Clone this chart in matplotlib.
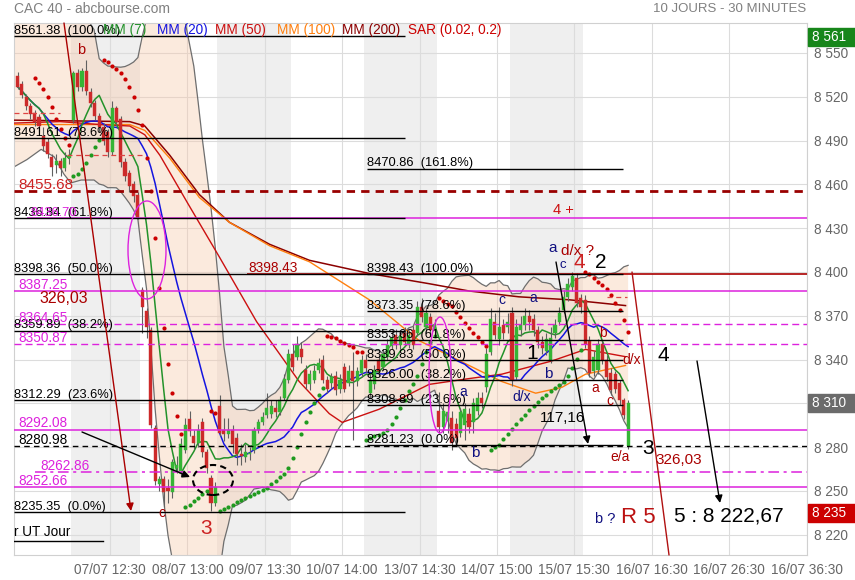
import numpy as np
import pandas as pd
import matplotlib
matplotlib.use("Agg")
import matplotlib.pyplot as plt
from matplotlib.patches import Ellipse, Rectangle

plt.rcParams['font.family'] = ['Liberation Sans', 'DejaVu Sans']

# ---------------- data (30-minute bars, CAC 40) ----------------
day_labels = ['06/07', '07/07', '08/07', '09/07', '10/07', '13/07', '14/07', '15/07', '16/07']
day_start_bar = [0, 13, 29, 47, 64, 81, 98, 115, 132]

opens = [
    8534, 8529, 8520, 8514, 8509, 8506, 8493, 8489, 8479, 8473, 8476, 8471, 8478,
    8504, 8536, 8527, 8538, 8523, 8516, 8507, 8499, 8496, 8482, 8512, 8505, 8475, 8468, 8460, 8453,
    8388, 8373, 8360, 8293, 8255, 8258, 8252, 8249, 8266, 8264, 8278, 8299, 8288, 8283, 8297, 8277, 8259, 8242,
    8308, 8292, 8289, 8292, 8286, 8275, 8273, 8275, 8278, 8292, 8297, 8302, 8303, 8307, 8304, 8314, 8326,
    8344, 8342, 8347, 8333, 8323, 8326, 8333, 8340, 8326, 8324, 8329, 8320, 8335, 8324, 8332, 8325, 8331,
    8340, 8317, 8323, 8340, 8335, 8342, 8349, 8357, 8350, 8358, 8350, 8360, 8358, 8376, 8362, 8369, 8360,
    8305, 8294, 8298, 8300, 8296, 8290, 8295, 8303, 8297, 8305, 8314, 8321, 8345, 8366, 8354, 8364, 8362,
    8372, 8328, 8360, 8364, 8370, 8368, 8360, 8352, 8346, 8340, 8358, 8366, 8374, 8383, 8390, 8396, 8382,
    8381, 8353, 8332, 8333, 8351, 8340, 8331, 8330, 8324, 8312, 8281,
]
highs = [
    8537, 8531, 8522, 8516, 8511, 8508, 8499, 8492, 8481, 8481, 8478, 8482, 8484,
    8538, 8539, 8540, 8545, 8526, 8518, 8509, 8502, 8498, 8517, 8514, 8507, 8478, 8470, 8462, 8455,
    8390, 8375, 8362, 8295, 8260, 8260, 8258, 8272, 8274, 8286, 8300, 8305, 8292, 8296, 8300, 8279, 8261, 8256,
    8316, 8300, 8300, 8295, 8290, 8282, 8282, 8280, 8294, 8299, 8304, 8317, 8312, 8312, 8315, 8330, 8347,
    8351, 8356, 8352, 8336, 8333, 8336, 8341, 8343, 8329, 8331, 8332, 8330, 8338, 8336, 8345, 8335, 8343,
    8344, 8330, 8336, 8343, 8347, 8354, 8360, 8361, 8360, 8362, 8360, 8363, 8380, 8382, 8376, 8372, 8368,
    8318, 8310, 8310, 8305, 8300, 8307, 8310, 8307, 8314, 8318, 8318, 8348, 8375, 8372, 8376, 8368, 8372,
    8376, 8368, 8370, 8375, 8374, 8371, 8363, 8356, 8358, 8362, 8368, 8376, 8388, 8396, 8400, 8399, 8385,
    8384, 8356, 8346, 8354, 8353, 8343, 8334, 8332, 8326, 8314, 8312,
]
lows = [
    8525, 8519, 8511, 8505, 8500, 8496, 8483, 8478, 8466, 8468, 8466, 8469, 8474,
    8502, 8524, 8524, 8521, 8513, 8504, 8496, 8487, 8479, 8480, 8500, 8472, 8462, 8455, 8448, 8436,
    8358, 8355, 8293, 8254, 8250, 8239, 8242, 8245, 8262, 8260, 8276, 8288, 8279, 8280, 8273, 8262, 8236, 8240,
    8288, 8284, 8286, 8276, 8268, 8268, 8270, 8271, 8276, 8290, 8295, 8300, 8300, 8301, 8302, 8312, 8324,
    8332, 8340, 8338, 8320, 8319, 8324, 8331, 8324, 8317, 8320, 8316, 8317, 8318, 8322, 8285, 8322, 8328,
    8331, 8314, 8320, 8329, 8333, 8340, 8347, 8347, 8347, 8349, 8348, 8347, 8356, 8366, 8358, 8356, 8356,
    8290, 8290, 8290, 8278, 8282, 8287, 8285, 8290, 8290, 8302, 8307, 8318, 8343, 8354, 8350, 8354, 8358,
    8322, 8326, 8356, 8360, 8360, 8356, 8348, 8344, 8343, 8338, 8355, 8364, 8372, 8380, 8387, 8376, 8372,
    8348, 8328, 8329, 8330, 8337, 8325, 8316, 8317, 8309, 8299, 8279,
]
closes = [
    8527, 8521, 8514, 8508, 8503, 8500, 8486, 8481, 8472, 8476, 8471, 8478, 8480,
    8536, 8527, 8538, 8524, 8516, 8507, 8499, 8490, 8482, 8512, 8503, 8475, 8466, 8459, 8452, 8438,
    8376, 8362, 8295, 8257, 8258, 8249, 8250, 8270, 8268, 8282, 8295, 8291, 8283, 8292, 8277, 8266, 8242, 8253,
    8290, 8289, 8292, 8282, 8275, 8274, 8277, 8276, 8292, 8297, 8301, 8307, 8308, 8304, 8312, 8327, 8344,
    8335, 8351, 8342, 8323, 8330, 8332, 8338, 8326, 8320, 8328, 8319, 8326, 8320, 8332, 8325, 8332, 8340,
    8334, 8326, 8333, 8332, 8344, 8350, 8355, 8350, 8356, 8352, 8357, 8350, 8376, 8369, 8372, 8360, 8364,
    8294, 8305, 8304, 8283, 8286, 8304, 8306, 8294, 8310, 8314, 8310, 8344, 8368, 8357, 8362, 8358, 8366,
    8326, 8362, 8364, 8370, 8366, 8360, 8352, 8348, 8354, 8355, 8364, 8372, 8383, 8392, 8397, 8379, 8376,
    8351, 8331, 8342, 8351, 8340, 8328, 8319, 8320, 8312, 8302, 8310,
]

# long moving averages (bar position, value)
mm50_bar = [-0.8, 9.9, 19.1, 26.1, 29.6, 33.1, 39.6, 47.0, 55.6, 65.5, 72.5, 75.5, 84.1, 95.7, 105.0, 112.6, 124.2, 132.1, 141.4]
mm50_val = [8502, 8503, 8501, 8500, 8494, 8480, 8447, 8410, 8366, 8325, 8303, 8297, 8306, 8323, 8327, 8330, 8339, 8347, 8342]
mm100_bar = [-0.8, 26.1, 29.6, 35.4, 42.3, 49.3, 58.6, 67.9, 81.8, 93.4, 105.0, 112.6, 120.5, 126.6, 132.1, 141.4]
mm100_val = [8501, 8501, 8497, 8478, 8451, 8434, 8418, 8407, 8381, 8353, 8336, 8325, 8317, 8321, 8330, 8336]
mm200_bar = [-0.8, 26.1, 29.6, 35.4, 42.3, 49.3, 58.6, 67.9, 81.8, 95.7, 105.0, 116.6, 128.2, 141.4]
mm200_val = [8504, 8503, 8500, 8480, 8453, 8434, 8419, 8408, 8399, 8392, 8387, 8383, 8381, 8377]

# Bollinger band at the very start (history before the window)
bb_early_bar = [-0.8, 2.2, 5.5, 8.5, 10.8, 12.4, 14.8, 17.8]
bb_early_up = [8575, 8574, 8573, 8578, 8572, 8575, 8580, 8566]
bb_early_lo = [8472, 8477, 8484, 8479, 8467, 8461, 8463, 8463]

fib_left_vals = [8561.38, 8491.61, 8436.84, 8398.36, 8359.89, 8312.29, 8235.35]
fib_left_pct = ['100.0%', '78.6%', '61.8%', '50.0%', '38.2%', '23.6%', '0.0%']
fib_right_vals = [8398.43, 8373.35, 8353.66, 8339.83, 8326.00, 8308.89, 8281.23]
fib_right_pct = ['100.0%', '78.6%', '61.8%', '50.0%', '38.2%', '23.6%', '0.0%']
fib_ext_val, fib_ext_pct = 8470.86, '161.8%'

mag_solid = [8436.70, 8387.25, 8292.08, 8252.66]
mag_dashed = [8364.65, 8350.87]
mag_dashdot = [8262.86]
black_dashed = 8280.98
red_dashed = 8455.68
red_solid = 8398.43

y_ticks = [8220, 8250, 8280, 8310, 8340, 8370, 8400, 8430, 8460, 8490, 8520, 8550]
x_tick_bars = [21.5, 39.5, 57.5, 75.5, 93.5, 111.5, 129.5, 147.5, 165.5, 183.5]
x_tick_labels = ['07/07 12:30', '08/07 13:00', '09/07 13:30', '10/07 14:00', '13/07 14:30',
                 '14/07 15:00', '15/07 15:30', '16/07 16:30', '16/07 26:30', '16/07 36:30']
box_vals = [8561, 8310, 8235]
box_cols = ['#17861a', '#6b6b6b', '#cc0000']

# ---------------- figure / axes ----------------
W, H = 855, 580
fig = plt.figure(figsize=(W / 100, H / 100), dpi=100)
AX_L, AX_R, AX_T, AX_B = 14, 807, 23, 555
ax = fig.add_axes([AX_L / W, 1 - AX_B / H, (AX_R - AX_L) / W, (AX_B - AX_T) / H])

X0_PX, BAR_PX = 17.5, 4.30
def bx(px):
    return (px - X0_PX) / BAR_PX
def pr(py):
    return 8550 - (py - 53) / 1.46

ax.set_xlim(bx(AX_L), 183.6)
ax.set_ylim(pr(AX_B), pr(AX_T))

n = len(closes)
idx = np.arange(n)
o = np.array(opens, float); h = np.array(highs, float)
l = np.array(lows, float); c = np.array(closes, float)

# day shading
for k in range(1, len(day_start_bar), 2):
    s = day_start_bar[k] - 0.5
    e = (day_start_bar[k + 1] - 0.5) if k + 1 < len(day_start_bar) else n - 0.5
    ax.axvspan(s, e, color='#efefef', zorder=0, lw=0)

# grid
for t in y_ticks:
    ax.axhline(t, color='#dcdcdc', lw=0.8, zorder=0.5)
for t in x_tick_bars:
    ax.axvline(t, color='#dcdcdc', lw=0.8, zorder=0.5)

# Bollinger bands (20, 2)
cs = pd.Series(c)
mid = cs.rolling(20, min_periods=2).mean()
sd = cs.rolling(20, min_periods=2).std(ddof=0)
up_b = (mid + 2 * sd).values
lo_b = (mid - 2 * sd).values
k0 = 19
bb_x = np.concatenate([bb_early_bar, idx[k0:]])
bb_u = np.concatenate([bb_early_up, up_b[k0:]])
bb_l = np.concatenate([bb_early_lo, lo_b[k0:]])
ax.fill_between(bb_x, bb_l, bb_u, color='#f7c8a8', alpha=0.38, lw=0, zorder=1)
ax.plot(bb_x, bb_u, color='#6e6e6e', lw=0.9, zorder=2)
ax.plot(bb_x, bb_l, color='#6e6e6e', lw=0.9, zorder=2)

# moving averages
mm7 = cs.rolling(7, min_periods=1).mean().values
mm20 = cs.rolling(20, min_periods=1).mean().values
ax.plot(mm200_bar, mm200_val, color='#8b0000', lw=1.1, zorder=3)
ax.plot(mm100_bar, mm100_val, color='#ff7f0e', lw=1.0, zorder=3)
ax.plot(mm50_bar, mm50_val, color='#cc1010', lw=1.0, zorder=3)
ax.plot(idx, mm20, color='#1515e0', lw=1.1, zorder=3)
ax.plot(idx, mm7, color='#23922a', lw=1.1, zorder=3)

# candles
green, red = '#35b535', '#cc2a2a'
cols = np.where(c >= o, green, red)
ax.vlines(idx, l, h, color='#606060', lw=0.8, zorder=4)
ax.bar(idx, np.maximum(np.abs(c - o), 0.6), bottom=np.minimum(o, c), width=0.72,
       color=cols, edgecolor=cols, lw=0.3, zorder=4.5)

# parabolic SAR (0.02, 0.2)
def parabolic_sar(hi, lo, step=0.02, amax=0.2):
    m = len(hi)
    sar = np.zeros(m); tr = np.zeros(m, int)
    up = False; af = step; ep = lo[0]; sar[0] = hi[0]; tr[0] = -1
    for i in range(1, m):
        s = sar[i - 1] + af * (ep - sar[i - 1])
        if up:
            s = min(s, lo[i - 1], lo[max(i - 2, 0)])
            if lo[i] < s:
                up = False; s = ep; ep = lo[i]; af = step
            elif hi[i] > ep:
                ep = hi[i]; af = min(af + step, amax)
        else:
            s = max(s, hi[i - 1], hi[max(i - 2, 0)])
            if hi[i] > s:
                up = True; s = ep; ep = hi[i]; af = step
            elif lo[i] < ep:
                ep = lo[i]; af = min(af + step, amax)
        sar[i] = s; tr[i] = 1 if up else -1
    return sar, tr

sar, tr = parabolic_sar(h, l)
st = 4
ax.scatter(idx[st:][tr[st:] > 0], sar[st:][tr[st:] > 0], s=9, color='#1f9a1f', zorder=5, lw=0)
ax.scatter(idx[st:][tr[st:] < 0], sar[st:][tr[st:] < 0], s=9, color='#cc0000', zorder=5, lw=0)

# ---------------- horizontal levels ----------------
def hl(v, px0, px1, **kw):
    ax.plot([bx(px0), bx(px1)], [v, v], zorder=6, solid_capstyle='butt', **kw)

def lab(px, v, s, color, size=9.3, dy=1.5):
    ax.annotate(s, (bx(px), v), xytext=(0, dy), textcoords='offset points',
                ha='left', va='baseline', color=color, fontsize=size, zorder=7)

MAG = '#dd22dd'
DR = '#aa0000'

for v in mag_solid:
    hl(v, 27 if v == 8436.70 else 14, 807, color=MAG, lw=1.1)
for v in mag_dashed:
    hl(v, 14, 807, color=MAG, lw=1.0, ls=(0, (5, 3)))
for v in mag_dashdot:
    hl(v, 35, 807, color=MAG, lw=1.1, ls=(0, (7, 3, 2, 3)))
hl(black_dashed, 14, 807, color='black', lw=1.0, ls=(0, (4, 3)))
hl(red_dashed, 14, 807, color='#990000', lw=2.0, ls=(0, (3, 2.2)))
hl(red_solid, 247, 807, color=DR, lw=1.2)

for v, p in zip(fib_left_vals, fib_left_pct):
    hl(v, 14, 405, color='black', lw=1.0)
    lab(14, v, f'{v:.2f}  ({p})', 'black')
for v, p in zip(fib_right_vals, fib_right_pct):
    hl(v, 367, 623, color='black', lw=1.0)
    lab(367, v, f'{v:.2f}  ({p})', 'black')
hl(fib_ext_val, 367, 623, color='black', lw=1.0)
lab(367, fib_ext_val, f'{fib_ext_val:.2f}  ({fib_ext_pct})', 'black')

for v in [8387.25, 8292.08, 8252.66, 8364.65, 8350.87]:
    lab(18, v, f'{v:.2f}', MAG, 9.8)
lab(40, 8262.86, '8262.86', MAG, 9.8)
lab(30, 8436.70, '8436.70', MAG, 9.3)
lab(18, black_dashed, f'{black_dashed:.2f}', 'black', 9.8)
lab(18, red_dashed, f'{red_dashed:.2f}', '#cc2222', 11)
lab(248, red_solid, f'{red_solid:.2f}', DR, 9.8)

# small hand-drawn red dashed segments
for (p0, p1, py) in [(14, 60, 113), (67, 145, 155), (607, 627, 297)]:
    ax.plot([bx(p0), bx(p1)], [pr(py), pr(py)], color='#dd4444', lw=0.9, ls=(0, (4, 3)), zorder=6)

# "r UT Jour"
ax.plot([bx(14), bx(103)], [pr(541), pr(541)], color='black', lw=1.0, zorder=6)
ax.text(bx(14), pr(532), 'r UT Jour', color='black', fontsize=9.8, va='center', ha='left', zorder=7)

# ---------------- annotations ----------------
def T(px, py, s, color, size):
    ax.text(bx(px), pr(py), s, color=color, fontsize=size, ha='center', va='center', zorder=8)

NAVY = '#101080'
T(81, 50, 'b', DR, 10.5)
T(64, 299, '326,03', DR, 11.5)
T(162, 513, 'c', DR, 10)
T(206, 528, '3', '#cc2222', 15)
T(463, 392, 'a', NAVY, 10)
T(475, 453, 'b', NAVY, 11)
T(502, 300, 'c', NAVY, 10)
T(533, 298, 'a', NAVY, 10)
T(522, 397, 'd/x', NAVY, 10)
T(532, 354, '1', 'black', 15)
T(548, 374, 'b', NAVY, 11)
T(563, 418, '117,16', 'black', 11)
T(620, 457, 'e/a', DR, 10)
T(648, 449, '3', 'black', 15)
T(679, 460, '326,03', DR, 11)
T(663, 356, '4', 'black', 15)
T(632, 360, 'd/x', DR, 10)
T(595, 388, 'a', DR, 10)
T(610, 401, 'c', DR, 10)
T(603, 333, 'b', DR, 10)
T(553, 248, 'a', NAVY, 11)
T(578, 251, 'd/x ?', DR, 11)
T(563, 265, 'c', NAVY, 9.5)
T(579, 263, '4', '#cc2222', 15)
T(601, 263, '2', 'black', 15)
T(605, 519, 'b ?', NAVY, 10.5)
T(638, 518, 'R 5', '#bb1111', 16)
T(729, 516, '5 : 8 222,67', 'black', 15)
T(563, 210, '4 +', '#cc1111', 10.5)

def arrow(p0, p1, color, head=True, lw=1.0):
    ax.annotate('', xy=(bx(p1[0]), pr(p1[1])), xytext=(bx(p0[0]), pr(p0[1])),
                arrowprops=dict(arrowstyle='-|>' if head else '-', color=color, lw=lw,
                                mutation_scale=11, shrinkA=0, shrinkB=0), zorder=8)

arrow((64, 23), (131, 511), DR)
arrow((82, 432), (190, 477), 'black')
arrow((556, 262), (588, 444), 'black')
arrow((697, 361), (720, 503), 'black')
arrow((632, 272), (669, 555), '#b01010', head=False)

def ell(px, py, w, hgt, color, ls='-', lw=1.0):
    e = Ellipse((bx(px), pr(py)), w / BAR_PX, hgt / 1.46, fill=False, edgecolor=color,
                lw=lw, ls=ls, zorder=8)
    ax.add_patch(e)

ell(147, 250, 38, 98, MAG)
ell(440, 375, 22, 116, MAG)
ell(213, 480, 40, 30, 'black', ls=(0, (3, 2)), lw=1.5)

# ---------------- legend / titles ----------------
leg = [('MM (7)', '#23922a', 103), ('MM (20)', '#1515e0', 157), ('MM (50)', '#cc1010', 215),
       ('MM (100)', '#ff7f0e', 277), ('MM (200)', '#8b0000', 342), ('SAR (0.02, 0.2)', '#cc0000', 408)]
for s, col, px in leg:
    ax.text(bx(px), pr(30), s, color=col, fontsize=9.8, ha='left', va='center', zorder=9)

fig.text(14 / W, 1 - 9 / H, 'CAC 40 - abcbourse.com', color='#808080', fontsize=10, ha='left', va='center')
fig.text(806 / W, 1 - 9 / H, '10 JOURS - 30 MINUTES', color='#808080', fontsize=9.5, ha='right', va='center')

# axes styling
ax.yaxis.tick_right()
ax.set_yticks(y_ticks)
ax.set_yticklabels(['' if t in box_vals else f'{t // 1000} {t % 1000:03d}' for t in y_ticks])
ax.set_xticks(x_tick_bars)
ax.set_xticklabels(x_tick_labels)
ax.tick_params(axis='both', length=0, colors='#666666', labelsize=9.8)
ax.tick_params(axis='y', pad=5)
ax.tick_params(axis='x', pad=6)
for sp in ax.spines.values():
    sp.set_color('#d0d0d0')
    sp.set_linewidth(0.8)

for v, col in zip(box_vals, box_cols):
    py = 53 + (8550 - v) * 1.46
    fig.patches.append(Rectangle((808 / W, 1 - (py + 9) / H), 47 / W, 18 / H,
                                 transform=fig.transFigure, color=col, zorder=10))
    fig.text(812 / W, 1 - py / H, f'{v // 1000} {v % 1000:03d}', color='white',
             fontsize=9.8, ha='left', va='center', zorder=11)

fig.savefig('out.png', dpi=100)
